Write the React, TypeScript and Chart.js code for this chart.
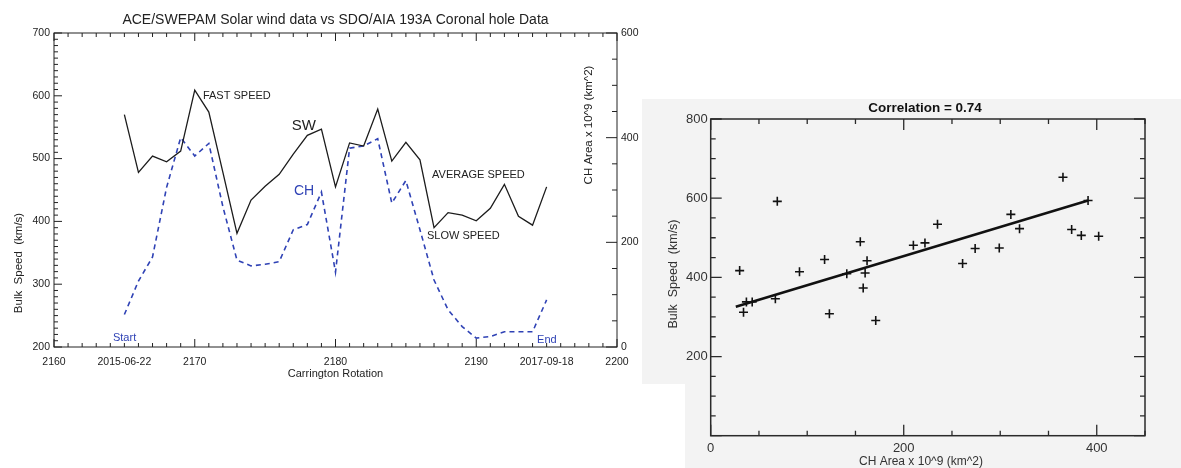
import React, { useEffect, useRef } from "react";
import { Chart, registerables } from "chart.js";

Chart.register(...registerables);

// ---------- Left chart data ----------
const rotations = [
  2165, 2166, 2167, 2168, 2169, 2170, 2171, 2172, 2173, 2174, 2175, 2176, 2177, 2178, 2179, 2180,
  2181, 2182, 2183, 2184, 2185, 2186, 2187, 2188, 2189, 2190, 2191, 2192, 2193, 2194, 2195,
];
const swSpeed = [
  570, 478, 504, 495, 512, 609, 574, 478, 381, 434, 456, 475, 507, 537, 547, 455,
  525, 520, 579, 496, 526, 498, 390, 414, 410, 401, 421, 459, 408, 394, 455,
];
const chArea = [
  62, 126, 172, 305, 400, 365, 389, 268, 166, 155, 158, 163, 224, 234, 296, 143,
  380, 384, 398, 275, 318, 224, 128, 71, 39, 17, 20, 29, 29, 29, 90,
];
const xTickValues = [2160, 2165, 2170, 2180, 2190, 2195, 2200];
const xTickLabels = ["2160", "2015-06-22", "2170", "2180", "2190", "2017-09-18", "2200"];
const speedTicks = [200, 300, 400, 500, 600, 700];
const areaTicks = [0, 200, 400, 600];

// ---------- Right (scatter) chart data ----------
const scatterArea = [
  69, 30, 92, 118, 155, 162, 141, 160, 210, 222, 235, 311, 320, 274,
  299, 261, 365, 374, 384, 402, 391, 37, 43, 34, 67, 123, 158, 171,
];
const scatterSpeed = [
  592, 417, 414, 445, 490, 442, 409, 411, 481, 487, 534, 559, 523, 473,
  474, 435, 653, 521, 506, 504, 594, 338, 338, 312, 346, 308, 373, 291,
];
const fitArea = [26, 391];
const fitSpeed = [326, 594];
const scatterXTicks = [0, 200, 400];
const scatterYTicks = [200, 400, 600, 800];

const FONT = '"Liberation Sans", Arial, Helvetica, sans-serif';
const INK = "#222222";
const BLUE = "#2f42b5";

type Spec = { from: number; to: number; step: number; major: number; minorLen: number; majorLen: number };

function drawInwardTicks(ctx: CanvasRenderingContext2D, scale: any, side: string, a: any, s: Spec) {
  const n = Math.round((s.to - s.from) / s.step);
  ctx.beginPath();
  for (let i = 0; i <= n; i++) {
    const v = s.from + i * s.step;
    const r = v / s.major;
    const isMajor = Math.abs(r - Math.round(r)) < 1e-6;
    const len = isMajor ? s.majorLen : s.minorLen;
    const p = scale.getPixelForValue(v);
    if (side === "bottom") {
      ctx.moveTo(p, a.bottom);
      ctx.lineTo(p, a.bottom - len);
    } else if (side === "top") {
      ctx.moveTo(p, a.top);
      ctx.lineTo(p, a.top + len);
    } else if (side === "left") {
      ctx.moveTo(a.left, p);
      ctx.lineTo(a.left + len, p);
    } else {
      ctx.moveTo(a.right, p);
      ctx.lineTo(a.right - len, p);
    }
  }
  ctx.stroke();
}

function drawText(
  ctx: CanvasRenderingContext2D,
  s: string,
  x: number,
  y: number,
  font: string,
  color: string,
  align: CanvasTextAlign = "left",
  rot = 0
) {
  ctx.save();
  ctx.translate(x, y);
  if (rot) ctx.rotate(rot);
  ctx.font = font;
  ctx.fillStyle = color;
  ctx.textAlign = align;
  ctx.textBaseline = "middle";
  ctx.fillText(s, 0, 0);
  ctx.restore();
}

function LeftChart() {
  const ref = useRef<HTMLCanvasElement>(null);
  useEffect(() => {
    if (!ref.current) return;
    const labels = [
      { t: "FAST SPEED", x: 2170.58, y: 600, size: 11, color: INK },
      { t: "SW", x: 2176.9, y: 552, size: 15, color: INK },
      { t: "CH", x: 2177.05, y: 448, size: 14, color: BLUE },
      { t: "AVERAGE SPEED", x: 2186.86, y: 474, size: 11, color: INK },
      { t: "SLOW SPEED", x: 2186.5, y: 377, size: 11, color: INK },
      { t: "Start", x: 2164.19, y: 214, size: 11, color: BLUE },
      { t: "End", x: 2194.32, y: 211, size: 11, color: BLUE },
    ];
    const decor = {
      id: "leftDecor",
      afterDraw(chart: any) {
        const { ctx, chartArea: a, scales } = chart;
        ctx.save();
        ctx.strokeStyle = INK;
        ctx.lineWidth = 1;
        ctx.strokeRect(a.left, a.top, a.right - a.left, a.bottom - a.top);
        drawInwardTicks(ctx, scales.x, "bottom", a, { from: 2160, to: 2200, step: 1, major: 10, minorLen: 4, majorLen: 8 });
        drawInwardTicks(ctx, scales.x, "top", a, { from: 2160, to: 2200, step: 1, major: 10, minorLen: 4, majorLen: 8 });
        drawInwardTicks(ctx, scales.y, "left", a, { from: 200, to: 700, step: 10, major: 100, minorLen: 4, majorLen: 8 });
        drawInwardTicks(ctx, scales.y2, "right", a, { from: 0, to: 600, step: 50, major: 200, minorLen: 5, majorLen: 11 });
        const cx = (a.left + a.right) / 2;
        drawText(ctx, "ACE/SWEPAM Solar wind data vs SDO/AIA 193A Coronal hole Data", cx, 20, `14px ${FONT}`, INK, "center");
        drawText(ctx, "Carrington Rotation", cx, 374, `11px ${FONT}`, INK, "center");
        drawText(ctx, "Bulk  Speed  (km/s)", 19, 263, `11.5px ${FONT}`, INK, "center", -Math.PI / 2);
        drawText(ctx, "CH Area x 10^9 (km^2)", 588.5, 125, `11.5px ${FONT}`, INK, "center", -Math.PI / 2);
        for (const l of labels) {
          drawText(
            ctx,
            l.t,
            scales.x.getPixelForValue(l.x),
            scales.y.getPixelForValue(l.y),
            `${l.size}px ${FONT}`,
            l.color,
            "left"
          );
        }
        ctx.restore();
      },
    };
    const tickFont = { family: FONT, size: 10.5 };
    const chart = new Chart(ref.current, {
      type: "line",
      data: {
        datasets: [
          {
            label: "SW",
            data: rotations.map((r, i) => ({ x: r, y: swSpeed[i] })),
            yAxisID: "y",
            borderColor: "#1c1c1c",
            borderWidth: 1.3,
            pointRadius: 0,
            tension: 0,
          },
          {
            label: "CH",
            data: rotations.map((r, i) => ({ x: r, y: chArea[i] })),
            yAxisID: "y2",
            borderColor: BLUE,
            borderWidth: 1.6,
            borderDash: [5, 4],
            pointRadius: 0,
            tension: 0,
          },
        ],
      },
      options: {
        responsive: false,
        animation: false,
        events: [],
        layout: { padding: { top: 33, left: 0, right: 0, bottom: 0 } },
        plugins: { legend: { display: false }, title: { display: false }, tooltip: { enabled: false } },
        scales: {
          x: {
            type: "linear",
            min: 2160,
            max: 2200,
            grid: { display: false, drawTicks: false },
            border: { display: false },
            afterBuildTicks: (s: any) => {
              s.ticks = xTickValues.map((value) => ({ value }));
            },
            afterFit: (s: any) => {
              s.height = 53;
            },
            ticks: {
              autoSkip: false,
              maxRotation: 0,
              padding: 9,
              font: tickFont,
              color: INK,
              callback: (_v: any, i: number) => xTickLabels[i],
            },
          },
          y: {
            type: "linear",
            position: "left",
            min: 200,
            max: 700,
            grid: { display: false, drawTicks: false },
            border: { display: false },
            afterBuildTicks: (s: any) => {
              s.ticks = speedTicks.map((value) => ({ value }));
            },
            afterFit: (s: any) => {
              s.width = 54;
            },
            ticks: { padding: 4, font: tickFont, color: INK },
          },
          y2: {
            type: "linear",
            position: "right",
            min: 0,
            max: 600,
            grid: { display: false, drawTicks: false },
            border: { display: false },
            afterBuildTicks: (s: any) => {
              s.ticks = areaTicks.map((value) => ({ value }));
            },
            afterFit: (s: any) => {
              s.width = 25;
            },
            ticks: { padding: 4, font: tickFont, color: INK },
          },
        },
      } as any,
      plugins: [decor],
    });
    return () => chart.destroy();
  }, []);
  return (
    <canvas
      ref={ref}
      width={642}
      height={400}
      style={{ position: "absolute", left: 0, top: 0, width: 642, height: 400 }}
    />
  );
}

function ScatterChart() {
  const ref = useRef<HTMLCanvasElement>(null);
  useEffect(() => {
    if (!ref.current) return;
    const decor = {
      id: "scatterDecor",
      beforeDraw(chart: any) {
        const { ctx } = chart;
        ctx.save();
        ctx.fillStyle = "#f3f3f3";
        ctx.fillRect(0, 1, 539, 285);
        ctx.fillRect(43, 1, 496, 369);
        ctx.restore();
      },
      afterDraw(chart: any) {
        const { ctx, chartArea: a, scales } = chart;
        ctx.save();
        ctx.strokeStyle = "#2a2a2a";
        ctx.lineWidth = 1.5;
        ctx.strokeRect(a.left, a.top, a.right - a.left, a.bottom - a.top);
        ctx.lineWidth = 1.3;
        const xs = { from: 0, to: 450, step: 50, major: 200, minorLen: 5, majorLen: 11 };
        const ys = { from: 0, to: 800, step: 50, major: 200, minorLen: 5, majorLen: 11 };
        drawInwardTicks(ctx, scales.x, "bottom", a, xs);
        drawInwardTicks(ctx, scales.x, "top", a, xs);
        drawInwardTicks(ctx, scales.y, "left", a, ys);
        drawInwardTicks(ctx, scales.y, "right", a, ys);
        drawText(ctx, "Correlation = 0.74", 283, 10, `bold 13.5px ${FONT}`, "#111", "center");
        drawText(ctx, "CH Area x 10^9 (km^2)", 279, 364, `12px ${FONT}`, "#333", "center");
        drawText(ctx, "Bulk  Speed  (km/s)", 32, 176, `12.5px ${FONT}`, "#333", "center", -Math.PI / 2);
        ctx.restore();
      },
    };
    const tickFont = { family: FONT, size: 13 };
    const chart = new Chart(ref.current, {
      type: "scatter",
      data: {
        datasets: [
          {
            label: "points",
            data: scatterArea.map((x, i) => ({ x, y: scatterSpeed[i] })),
            pointStyle: "cross",
            pointRadius: 4.5,
            borderWidth: 1.6,
            borderColor: "#111",
            backgroundColor: "#111",
          },
          {
            label: "fit",
            type: "line",
            data: fitArea.map((x, i) => ({ x, y: fitSpeed[i] })),
            showLine: true,
            pointRadius: 0,
            borderWidth: 2.6,
            borderColor: "#111",
          },
        ],
      },
      options: {
        responsive: false,
        animation: false,
        events: [],
        layout: { padding: { top: 21, left: 0, right: 36, bottom: 0 } },
        plugins: { legend: { display: false }, title: { display: false }, tooltip: { enabled: false } },
        scales: {
          x: {
            type: "linear",
            min: 0,
            max: 450,
            grid: { display: false, drawTicks: false },
            border: { display: false },
            afterBuildTicks: (s: any) => {
              s.ticks = scatterXTicks.map((value) => ({ value }));
            },
            afterFit: (s: any) => {
              s.height = 32.3;
            },
            ticks: { padding: 5, font: tickFont, color: "#333", maxRotation: 0, autoSkip: false },
          },
          y: {
            type: "linear",
            min: 0,
            max: 800,
            grid: { display: false, drawTicks: false },
            border: { display: false },
            afterBuildTicks: (s: any) => {
              s.ticks = scatterYTicks.map((value) => ({ value }));
            },
            afterFit: (s: any) => {
              s.width = 68.7;
            },
            ticks: { padding: 3, font: tickFont, color: "#333" },
          },
        },
      } as any,
      plugins: [decor],
    });
    return () => chart.destroy();
  }, []);
  return (
    <canvas
      ref={ref}
      width={539}
      height={370}
      style={{ position: "absolute", left: 642, top: 98, width: 539, height: 370 }}
    />
  );
}

export default function App() {
  return (
    <div
      style={{
        position: "absolute",
        left: 0,
        top: 0,
        width: 1181,
        height: 468,
        background: "#ffffff",
        overflow: "hidden",
      }}
    >
      <LeftChart />
      <ScatterChart />
    </div>
  );
}
